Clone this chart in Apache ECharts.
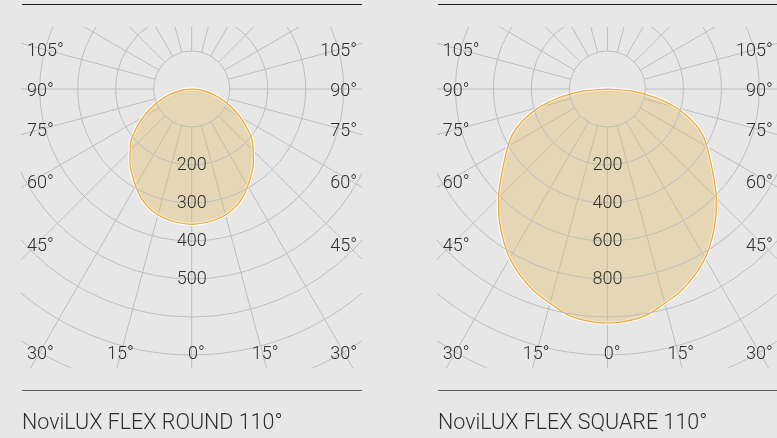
<!DOCTYPE html>
<html><head><meta charset="utf-8">
<script src="https://cdn.jsdelivr.net/npm/echarts@6/dist/echarts.min.js"></script>
<style>
html,body{margin:0;padding:0;background:#e6e7e6;overflow:hidden;}
#base{position:absolute;left:0;top:0;width:777px;height:438px;}
#p0{position:absolute;left:21px;top:27px;width:341px;height:341px;overflow:hidden;}
#p1{position:absolute;left:437px;top:27px;width:340px;height:341px;overflow:hidden;}
</style>
</head><body><div id="base"></div><div id="p0"></div><div id="p1"></div><script>
// angle from the downward vertical (negative = right side), degrees
const angles = [-90,-85,-80,-75,-70,-65,-60,-55,-50,-45,-40,-35,-30,-25,-20,-15,-10,-5,0,5,10,15,20,25,30,35,40,45,50,55,60,65,70,75,80,85,90];
// NoviLUX FLEX ROUND 110° (radius scale: 100 per ring)
const roundValues = [0,18,39,64,89,118,147,177,208,229,253,274,295,316,332,343,350,354,356,354,350,343,332,316,295,274,253,229,208,177,147,118,89,64,39,18,0];
// NoviLUX FLEX SQUARE 110° (radius scale: 200 per ring, inner ring = 0)
const squareValues = [-200,-68,58,174,268,347,405,463,532,611,687,760,829,884,932,968,1007,1025,1032,1025,1007,968,932,884,829,760,687,611,532,463,405,347,268,174,58,-68,-200];
const roundRingLabels = [200,300,400,500];
const squareRingLabels = [200,400,600,800];
const sideAngleLabels = ['105°','90°','75°','60°','45°'];
const bottomAngleLabels = ['30°','15°','0°','15°','30°'];
const titles = ['NoviLUX FLEX ROUND 110°','NoviLUX FLEX SQUARE 110°'];

const BG = '#e6e7e6';
const GRID = '#bdbdbd';
const TXT = '#2f2f2f';
const FONT = 'Roboto, "Liberation Sans", sans-serif';
const LABEL_FONT = '300 18px ' + FONT;

const panels = [
  {cx:191.7, cy:89, gridMin:100, dataMin:0, max:1000, step:100, values:roundValues, rings:roundRingLabels, title:titles[0], left:22, clipL:21, clipR:362, el:'p0'},
  {cx:607.4, cy:89, gridMin:0, dataMin:-200, max:1800, step:200, values:squareValues, rings:squareRingLabels, title:titles[1], left:438, clipL:437, clipR:777, el:'p1'}
];
const CLIP_TOP = 27;
const R_IN = 38, R_OUT = 380;
const toAxisAngle = a => a >= 0 ? a : 360 + a;

const sideDy = [-37.5, 2.5, 42.5, 94, 157];
const bottomDy = 265.5;
const bottomDx = [-164.7, -84.7, -3.7, 60, 165.3];
const bottomAlign = ['left','left','left','left','right'];

// base: lines and titles
const baseGraphic = [];
panels.forEach(p => {
  baseGraphic.push({type:'line', shape:{x1:p.clipL + 1, y1:4.5, x2:p.clipR, y2:4.5}, style:{stroke:'#1e1e1e', lineWidth:1}});
  baseGraphic.push({type:'line', shape:{x1:p.clipL + 1, y1:390.5, x2:p.clipR, y2:390.5}, style:{stroke:'#5a5a5a', lineWidth:1.2}});
  baseGraphic.push({type:'text', x:p.left, y:424, style:{text:p.title, font:'300 21.5px ' + FONT, fill:TXT, align:'left', verticalAlign:'middle'}});
});
echarts.init(document.getElementById('base')).setOption({backgroundColor:BG, animation:false, graphic:baseGraphic});

panels.forEach(p => {
  const cx = p.cx - p.clipL, cy = p.cy - CLIP_TOP;
  const polar = [
    {center:[cx, cy], radius:[R_IN, R_OUT]},
    {center:[cx, cy], radius:[0, R_OUT]}
  ];
  const angleAxis = [
    {polarIndex:0, type:'value', min:0, max:360, interval:15, startAngle:270, clockwise:true,
      axisLine:{show:false}, axisTick:{show:false}, axisLabel:{show:false},
      splitLine:{show:true, lineStyle:{color:GRID, width:1}}},
    {polarIndex:1, type:'value', min:0, max:360, startAngle:270, clockwise:true, show:false}
  ];
  const radiusAxis = [
    {polarIndex:0, type:'value', min:p.gridMin, max:p.max, interval:p.step,
      axisLine:{show:false}, axisTick:{show:false},
      axisLabel:{show:true, margin:0, align:'center', verticalAlign:'middle', padding:[4,0,0,0], color:TXT, fontSize:18, fontFamily:FONT, fontWeight:300,
        formatter: v => p.rings.indexOf(v) >= 0 ? String(v) : ''},
      splitLine:{show:true, lineStyle:{color:GRID, width:1}}, z:5},
    {polarIndex:1, type:'value', min:p.dataMin, max:p.max, show:false}
  ];
  const data = angles.map((a, k) => [p.values[k], toAxisAngle(a)]);
  const series = [
    {type:'line', coordinateSystem:'polar', polarIndex:1, data, symbol:'none', silent:true, smooth:0.3, z:2,
      lineStyle:{color:'#ffffff', width:3.5}},
    {type:'line', coordinateSystem:'polar', polarIndex:1, data, symbol:'none', silent:true, smooth:0.3, z:3,
      lineStyle:{color:'#eea83a', width:1.2},
      areaStyle:{color:'rgba(228,183,92,0.5)', origin:'start'}}
  ];
  const graphic = [];
  sideAngleLabels.forEach((t, k) => {
    graphic.push({type:'text', z:100, x:cx - 164.7, y:cy + sideDy[k], style:{text:t, font:LABEL_FONT, fill:TXT, align:'left', verticalAlign:'middle'}});
    graphic.push({type:'text', z:100, x:cx + 165.3, y:cy + sideDy[k], style:{text:t, font:LABEL_FONT, fill:TXT, align:'right', verticalAlign:'middle'}});
  });
  bottomAngleLabels.forEach((t, k) => {
    graphic.push({type:'text', z:100, x:cx + bottomDx[k], y:cy + bottomDy, style:{text:t, font:LABEL_FONT, fill:TXT, align:bottomAlign[k], verticalAlign:'middle'}});
  });
  echarts.init(document.getElementById(p.el)).setOption({animation:false, polar, angleAxis, radiusAxis, series, graphic});
});
</script></body></html>
